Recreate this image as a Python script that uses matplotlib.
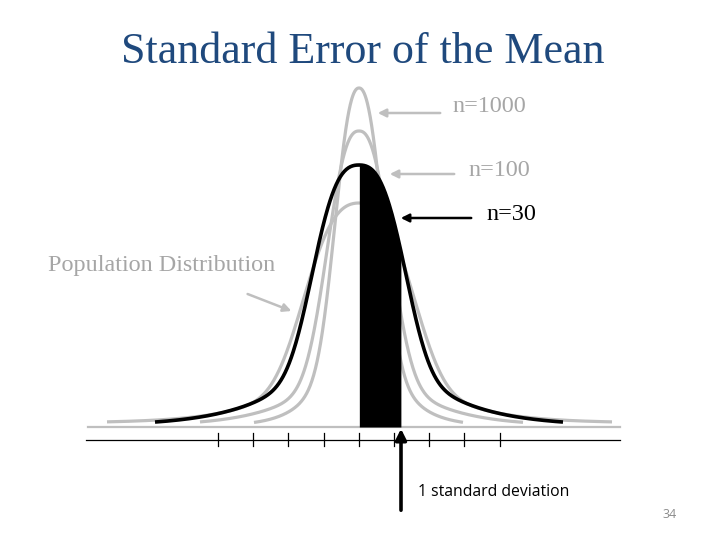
import numpy as np
import matplotlib.pyplot as plt

# curves (pixel space, y grows downward)
curve_names = ["Population", "n=30", "n=100", "n=1000"]
peak_y = [203, 165, 131, 88]
base_y = [423, 426, 426, 426]
core_width = [65, 54, 39, 30]
core_power = [3.0, 3.0, 2.5, 2.5]
tail_share = [0.33, 0.31, 0.19, 0.35]
tail_width = [52, 55, 48, 25]
left_end = [107, 155, 200, 254]
right_end = [612, 563, 523, 463]
center_x = 359

tick_x = [218, 253, 288, 324, 359, 394, 429, 464, 500]
sd_edge = 401  # one standard deviation to the right of the mean


def curve(i, n=600):
    x = np.linspace(left_end[i], right_end[i], n)
    d = np.abs(x - center_x)
    a = tail_share[i]
    f = (1 - a) * np.exp(-(d / core_width[i]) ** core_power[i]) \
        + a / np.cosh(d / tail_width[i])
    return x, base_y[i] - (base_y[i] - peak_y[i]) * f


def main():
    fig = plt.figure(figsize=(7.2, 5.4), dpi=100)
    ax = fig.add_axes([0, 0, 1, 1])
    ax.set_xlim(0, 720)
    ax.set_ylim(540, 0)
    ax.axis("off")

    gray = "#BFBFBF"
    label_gray = "#A6A6A6"

    # gray curves first, black n=30 on top
    for i, name in enumerate(curve_names):
        if name == "n=30":
            continue
        x, y = curve(i)
        ax.plot(x, y, color=gray, lw=2.3, solid_capstyle="butt", zorder=2)

    i30 = curve_names.index("n=30")
    x, y = curve(i30)
    ax.plot(x, y, color="black", lw=2.6, solid_capstyle="butt", zorder=3)

    # shaded area: mean to one standard deviation
    m = (x >= center_x) & (x <= sd_edge)
    ax.fill_between(x[m], y[m], 427, color="black", lw=0, zorder=4)

    # baseline and axis with ticks
    ax.plot([88, 620], [427, 427], color=gray, lw=1.6, zorder=1)
    ax.plot([86, 620], [440, 440], color="black", lw=0.9, zorder=1)
    for t in tick_x:
        ax.plot([t, t], [433, 446], color="black", lw=0.9, zorder=1)

    # title
    ax.text(363, 52, "Standard Error of the Mean", ha="center", va="center",
            fontsize=31.7, family="Liberation Serif", color="#1F497D")

    # labels with arrows
    arrow_kw = dict(arrowstyle="-|>", mutation_scale=12)
    ax.annotate("", xy=(375, 113), xytext=(443, 113),
                arrowprops=dict(color=gray, lw=1.8, **arrow_kw))
    ax.text(452, 107, "n=1000", va="center", fontsize=17.4,
            family="Liberation Serif", color=label_gray)

    ax.annotate("", xy=(387, 174), xytext=(457, 174),
                arrowprops=dict(color=gray, lw=1.8, **arrow_kw))
    ax.text(468, 171, "n=100", va="center", fontsize=17.4,
            family="Liberation Serif", color=label_gray)

    ax.annotate("", xy=(398, 218), xytext=(474, 218),
                arrowprops=dict(color="black", lw=1.8, **arrow_kw))
    ax.text(486, 214, "n=30", va="center", fontsize=17.4,
            family="Liberation Serif", color="black")

    ax.annotate("", xy=(294, 312), xytext=(245, 293),
                arrowprops=dict(color=gray, lw=1.8, **arrow_kw))
    ax.text(48, 265, "Population Distribution", va="center", fontsize=17.4,
            family="Liberation Serif", color=label_gray)

    ax.annotate("", xy=(401, 426), xytext=(401, 513),
                arrowprops=dict(color="black", lw=2.6, arrowstyle="-|>",
                                mutation_scale=16))
    ax.text(418, 492, "1 standard deviation", va="center", fontsize=11.3,
            family="Open Sans", color="black")

    ax.text(677, 514, "34", ha="right", va="center", fontsize=9,
            family="Open Sans", color="#8C8C8C")

    fig.savefig("out.png", dpi=100)


if __name__ == "__main__":
    main()
